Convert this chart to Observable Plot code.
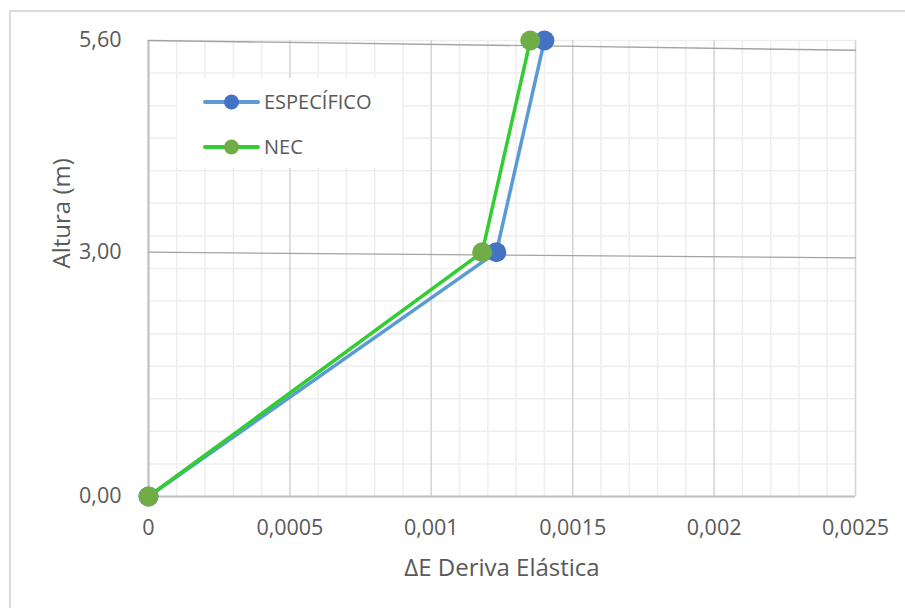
<!DOCTYPE html>
<html>
<head>
<meta charset="utf-8">
<script src="https://cdn.jsdelivr.net/npm/d3@7"></script>
<script src="https://cdn.jsdelivr.net/npm/@observablehq/plot@0.6"></script>
<style>
  body { margin: 0; background: #fff; }
  #chart { position: relative; width: 905px; height: 608px; overflow: hidden; font-family: "Open Sans", sans-serif; color: #595959; }
  #frame { position: absolute; left: 9px; top: 10px; width: 1000px; height: 1000px; border-left: 2px solid #dcdcdc; border-top: 2px solid #dcdcdc; pointer-events: none; }
  #plotwrap { position: absolute; left: 0; top: 0; }
  #legend { position: absolute; left: 177px; top: 78px; width: 225px; height: 90px; background: #fff; }
  #legend .swatch { position: absolute; left: 26px; }
  #legend .name { position: absolute; left: 87px; font-size: 20px; line-height: 30px; color: #595959; white-space: nowrap; }
</style>
</head>
<body>
<div id="chart"><div id="frame"></div><div id="plotwrap"></div></div>
<script>
// Series names and colours
const seriesNames = ["ESPECÍFICO", "NEC"];
const lineColors = ["#5B9BD5", "#32CD32"];
const dotColors = ["#4472C4", "#70AD47"];

// Storey heights (m) and elastic drift per series
const altura = [0, 3.0, 5.6];
const derivaEspecifico = [0, 0.00123, 0.0014];
const derivaNEC = [0, 0.00118, 0.00135];

// Tick values
const xTicks = [0, 0.0005, 0.001, 0.0015, 0.002, 0.0025];
const yTicks = [0, 3.0, 5.6];

// Reference lines drawn across the floor levels
const guideX = [0, 0.0025];
const guideTechoY = [5.6, 5.48];
const guideEntrepisoY = [3.0, 2.93];

const comma = s => s.replace(".", ",");

const especifico = altura.map((y, i) => ({x: derivaEspecifico[i], y}));
const nec = altura.map((y, i) => ({x: derivaNEC[i], y}));
const guides = [
  ...guideX.map((x, i) => ({id: "techo", x, y: guideTechoY[i]})),
  ...guideX.map((x, i) => ({id: "entrepiso", x, y: guideEntrepisoY[i]}))
];
const minorY = d3.range(0, 15).map(i => +(i * 0.4).toFixed(1));

const plot = Plot.plot({
  width: 905,
  height: 608,
  marginLeft: 148,
  marginRight: 50,
  marginTop: 40,
  marginBottom: 112,
  style: {fontFamily: "Open Sans, sans-serif", fontSize: "21px", color: "#595959", background: "transparent", overflow: "visible"},
  x: {domain: [0, 0.0025]},
  y: {domain: [0, 5.6]},
  marks: [
    Plot.gridX({ticks: 25, stroke: "#eeeeee", strokeOpacity: 1, strokeWidth: 1.5}),
    Plot.gridY(minorY, {stroke: "#eeeeee", strokeOpacity: 1, strokeWidth: 1.5}),
    Plot.gridX(xTicks, {stroke: "#d6d6d6", strokeOpacity: 1, strokeWidth: 1.5}),
    Plot.ruleX([0], {stroke: "#bfbfbf", strokeWidth: 2}),
    Plot.ruleY([0], {stroke: "#bfbfbf", strokeWidth: 2}),
    Plot.line(guides, {x: "x", y: "y", z: "id", stroke: "#a3a3a3", strokeWidth: 1.3}),
    Plot.line(especifico, {x: "x", y: "y", stroke: lineColors[0], strokeWidth: 3.5}),
    Plot.dot(especifico, {x: "x", y: "y", r: 10, fill: dotColors[0]}),
    Plot.line(nec, {x: "x", y: "y", stroke: lineColors[1], strokeWidth: 3.5}),
    Plot.dot(nec, {x: "x", y: "y", r: 10, fill: dotColors[1]}),
    Plot.axisX(xTicks, {tickSize: 0, tickPadding: 23, fontSize: 21.5, label: null, tickFormat: d => comma(String(d))}),
    Plot.axisY(yTicks, {tickSize: 0, tickPadding: 27, fontSize: 21.5, label: null, tickFormat: d => comma(d.toFixed(2))}),
    Plot.text(["ΔE Deriva Elástica"], {frameAnchor: "bottom", dy: 72, fontSize: 24, lineAnchor: "middle", fill: "#595959"}),
    Plot.text(["Altura (m)"], {frameAnchor: "left", dx: -86, rotate: -90, fontSize: 24, lineAnchor: "middle", fill: "#595959"})
  ]
});

const chart = document.getElementById("chart");
document.getElementById("plotwrap").appendChild(plot);

// Legend box inside the plotting area
const legend = document.createElement("div");
legend.id = "legend";
seriesNames.forEach((name, i) => {
  const top = i === 0 ? 9 : 54;
  const sw = document.createElementNS("http://www.w3.org/2000/svg", "svg");
  sw.setAttribute("class", "swatch");
  sw.setAttribute("width", "60");
  sw.setAttribute("height", "30");
  sw.style.top = top + "px";
  sw.innerHTML =
    `<line x1="2" x2="55" y1="15" y2="15" stroke="${lineColors[i]}" stroke-width="4" stroke-linecap="round"/>` +
    `<circle cx="28.5" cy="15" r="7.5" fill="${dotColors[i]}"/>`;
  const label = document.createElement("div");
  label.className = "name";
  label.style.top = top + "px";
  label.textContent = name;
  legend.appendChild(sw);
  legend.appendChild(label);
});
chart.appendChild(legend);
</script>
</body>
</html>
